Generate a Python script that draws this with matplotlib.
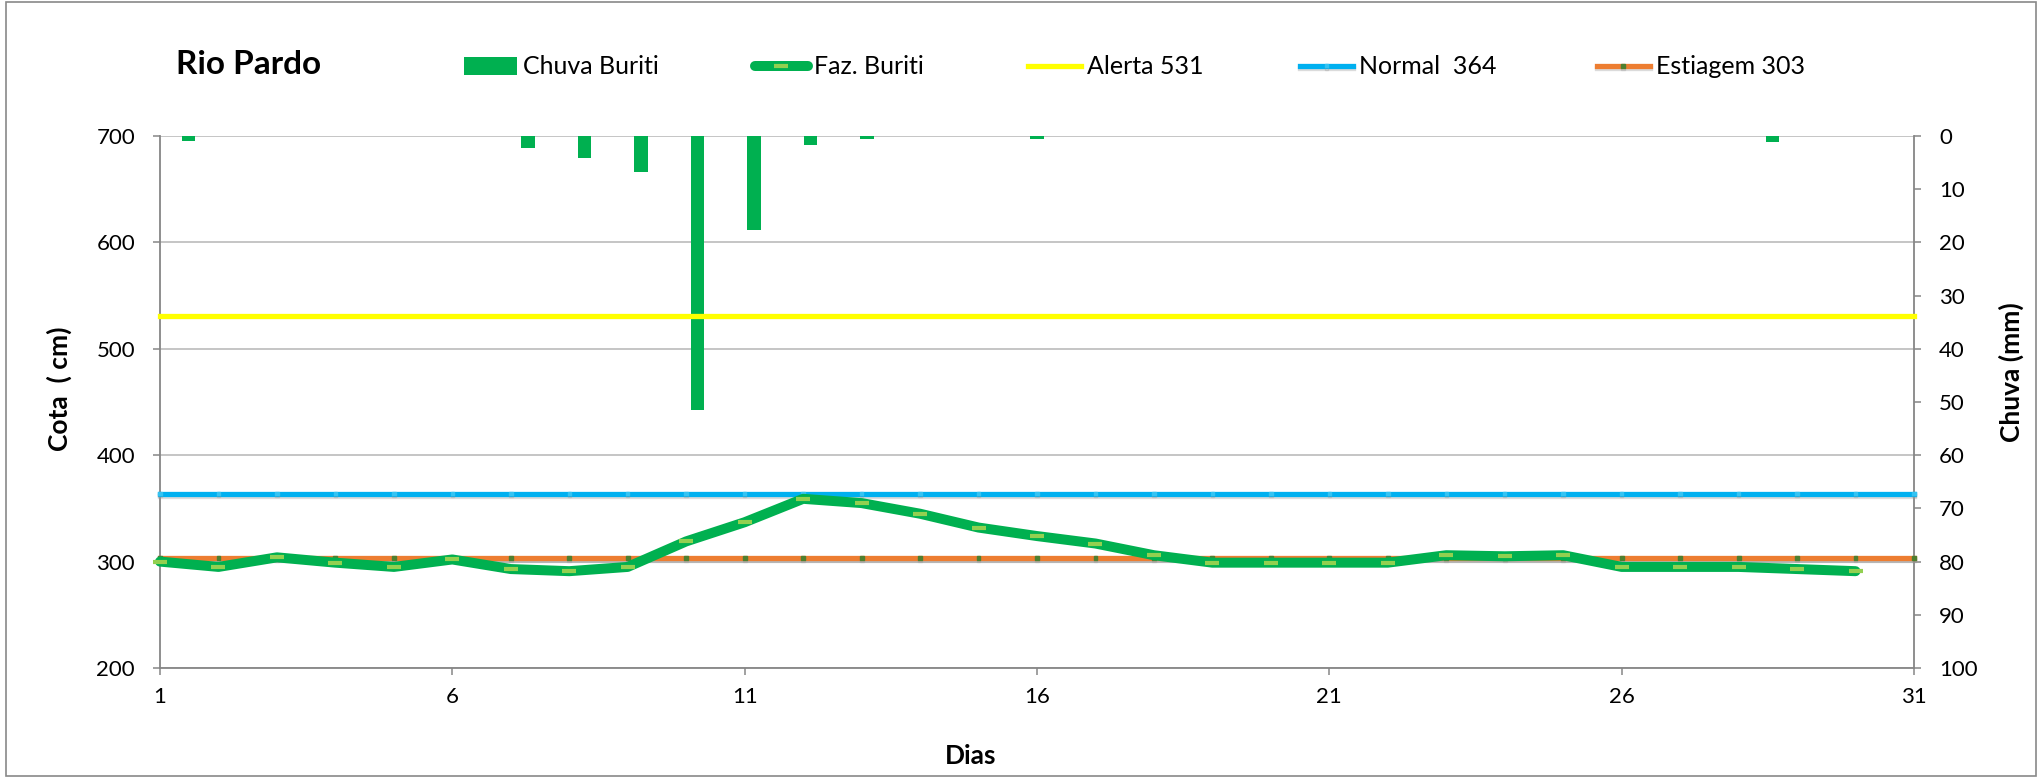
import matplotlib
matplotlib.use("Agg")
import matplotlib.pyplot as plt
import matplotlib.patheffects as pe
from matplotlib.patches import Rectangle
import numpy as np

plt.rcParams['font.family'] = ['Lato', 'DejaVu Sans']

# ------------------------------
# data
# ------------------------------
dias = list(range(1, 32))
dias_cota = list(range(1, 31))

# Faz. Buriti - cota (cm)
cota_buriti = [300, 295, 304, 299, 295, 302, 293, 291, 295, 319,
               337, 359, 355, 345, 332, 324, 317, 306, 299, 299,
               299, 299, 306, 305, 306, 295, 295, 295, 293, 291]

# Chuva Buriti (mm)
chuva_buriti = [1.0, 0, 0, 0, 0, 0, 2.3, 4.1, 6.7, 51.5,
                17.6, 1.6, 0.5, 0, 0, 0.5, 0, 0, 0, 0,
                0, 0, 0, 0, 0, 0, 0, 0, 1.2, 0, 0]

alerta = 531
normal = 364
estiagem = 303

cota_ticks = [200, 300, 400, 500, 600, 700]
chuva_ticks = [0, 10, 20, 30, 40, 50, 60, 70, 80, 90, 100]
dias_ticks = [1, 6, 11, 16, 21, 26, 31]

# ------------------------------
# figure
# ------------------------------
W, H = 2044, 779
fig = plt.figure(figsize=(W / 100, H / 100), dpi=100)
rect = [160 / W, 1 - 668 / H, (1914 - 160) / W, (668 - 136) / H]
gray = '#868686'

# base axes: grid + left axis
ax = fig.add_axes(rect)
ax.set_xlim(1, 31)
ax.set_ylim(200, 700)
ax.set_yticks(cota_ticks)
ax.set_xticks(dias_ticks)
ax.grid(axis='y', color='#C0C0C0', lw=1.3)
ax.set_axisbelow(True)
for s in ['top', 'right']:
    ax.spines[s].set_visible(False)
for s in ['left', 'bottom']:
    ax.spines[s].set_color(gray)
    ax.spines[s].set_linewidth(1.3)
ax.tick_params(axis='y', direction='out', length=5, width=1.1, color=gray,
               labelsize=16, pad=13)
ax.tick_params(axis='x', direction='out', length=5, width=1.1, color=gray,
               labelsize=16, pad=9)
ax.set_ylabel('Cota  ( cm)', fontsize=19, fontweight='bold')
ax.yaxis.set_label_coords(-0.050, 0.525)
ax.set_xlabel('Dias', fontsize=19, fontweight='bold')
ax.xaxis.set_label_coords(0.4624, -0.143)

# bars: secondary axis (inverted)
axb = fig.add_axes(rect, zorder=1)
axb.patch.set_alpha(0)
axb.set_xlim(0, 31)
axb.set_ylim(100, 0)
bars = axb.bar(np.array(dias) - 0.5, chuva_buriti, width=0.24,
               color='#00B050', label='Chuva Buriti')
axb.xaxis.set_visible(False)
axb.yaxis.tick_right()
axb.yaxis.set_label_position('right')
axb.set_yticks(chuva_ticks)
for s in ['top', 'left', 'bottom']:
    axb.spines[s].set_visible(False)
axb.spines['right'].set_color(gray)
axb.spines['right'].set_linewidth(1.3)
axb.tick_params(axis='y', direction='out', length=5, width=1.1, color=gray,
                labelsize=16, pad=13)
axb.set_ylabel('Chuva (mm)', fontsize=19, fontweight='bold', rotation=90)
axb.yaxis.set_label_coords(1.0485, 0.557)

# lines on top
axl = fig.add_axes(rect, zorder=2, sharex=ax, sharey=ax)
axl.patch.set_alpha(0)
axl.axis('off')

shadow = [pe.SimpleLineShadow(offset=(0, -1.5), shadow_color='#999999', alpha=0.35),
          pe.Normal()]

l_alerta, = axl.plot(dias, [alerta] * len(dias), color='#FFFF00', lw=3.8,
                     clip_on=False, label='Alerta 531')
l_normal, = axl.plot(dias, [normal] * len(dias), color='#00B0F0', lw=3.8,
                     marker='s', ms=2.5, mfc='#33C3F3', mec='#33C3F3',
                     clip_on=False, label='Normal  364', path_effects=shadow)
l_estiagem, = axl.plot(dias, [estiagem] * len(dias), color='#ED7D31', lw=3.8,
                       marker='s', ms=2.8, mfc='#4E7F2F', mec='#4E7F2F',
                       clip_on=False, label='Estiagem 303', path_effects=shadow)
l_buriti, = axl.plot(dias_cota, cota_buriti, color='#00B050', lw=7.2,
                     solid_capstyle='round', solid_joinstyle='round',
                     marker='_', ms=9.5, mew=3.0, mec='#92D050',
                     clip_on=False, label='Faz. Buriti')

# ------------------------------
# title and legend
# ------------------------------
fig.text(176 / W, 1 - 65 / H, 'Rio Pardo', fontsize=24, fontweight='bold',
         ha='left', va='center')

entries = [(bars, 'Chuva Buriti', 464),
           (l_buriti, 'Faz. Buriti', 755),
           (l_alerta, 'Alerta 531', 1028),
           (l_normal, 'Normal  364', 1300),
           (l_estiagem, 'Estiagem 303', 1597)]
for h, lab, xp in entries:
    fig.legend([h], [lab], loc='center left', bbox_to_anchor=(xp / W, 1 - 67 / H),
               frameon=False, borderpad=0, borderaxespad=0, fontsize=18,
               handlelength=2.1, handletextpad=0.25)

# outer chart border
fig.patches.append(Rectangle((6 / W, 3 / H), (2036 - 6) / W, (777 - 3) / H,
                             transform=fig.transFigure, fill=False,
                             ec='#898989', lw=1.2))

fig.savefig('out.png', dpi=100)
